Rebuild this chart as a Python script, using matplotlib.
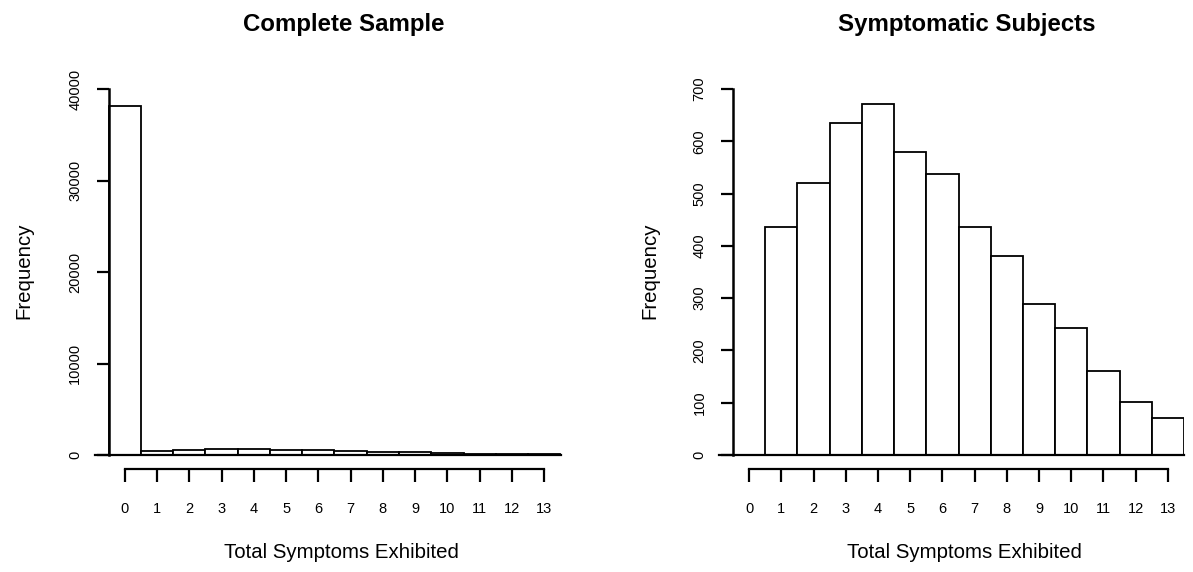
import matplotlib
matplotlib.use("Agg")
import matplotlib.pyplot as plt

# symptom counts 0..13
symptoms = list(range(14))
complete_freq = [38100, 436, 520, 635, 671, 579, 537, 436, 380, 289, 242, 160, 101, 70]
symptomatic_freq = [0, 436, 520, 635, 671, 579, 537, 436, 380, 289, 242, 160, 101, 70]

titles = ["Complete Sample", "Symptomatic Subjects"]
xlabel = "Total Symptoms Exhibited"
ylabel = "Frequency"
yticks_left = [0, 10000, 20000, 30000, 40000]
yticks_right = [0, 100, 200, 300, 400, 500, 600, 700]

plt.rcParams["font.family"] = ["Liberation Sans", "DejaVu Sans"]

W, H = 1193, 572
fig = plt.figure(figsize=(W / 100, H / 100), dpi=100)


def px_axes(x0, x1, y0, y1):
    # pixel box (top-left origin) -> figure fraction
    return fig.add_axes([x0 / W, 1 - y1 / H, (x1 - x0) / W, (y1 - y0) / H])


def px_text(x, y, s, **kw):
    fig.text(x / W, 1 - y / H, s, ha="center", va="center", **kw)


def hist_panel(ax, freq, yticks, xlim):
    ax.bar(symptoms, freq, width=1.0, color="white", edgecolor="black",
           linewidth=1.3, zorder=2)
    ax.axhline(0, color="black", linewidth=1.6, zorder=3, clip_on=False)
    ax.set_xlim(*xlim)
    ax.set_ylim(0, yticks[-1])
    for s in ("top", "right"):
        ax.spines[s].set_visible(False)
    ax.spines["left"].set_position(("data", -0.5))
    ax.spines["left"].set_bounds(yticks[0], yticks[-1])
    ax.spines["left"].set_linewidth(1.8)
    ax.spines["bottom"].set_position(("outward", 10))
    ax.spines["bottom"].set_bounds(symptoms[0], symptoms[-1])
    ax.spines["bottom"].set_linewidth(1.6)
    ax.set_xticks(symptoms)
    ax.set_xticklabels([str(s) for s in symptoms])
    ax.set_yticks(yticks)
    ax.set_yticklabels([str(t) for t in yticks], rotation=90, va="center")
    ax.tick_params(axis="x", direction="out", length=9, width=1.6,
                   pad=15, labelsize=10.5)
    ax.tick_params(axis="y", direction="out", length=9, width=1.6,
                   pad=10, labelsize=10.5)
    ax.patch.set_visible(False)


ax1 = px_axes(95, 561, 89, 455)
hist_panel(ax1, complete_freq, yticks_left, (-0.92, 13.52))
ax2 = px_axes(719, 1184, 89, 455)
hist_panel(ax2, symptomatic_freq, yticks_right, (-0.935, 13.5))

px_text(343.5, 24, titles[0], fontsize=17.3, fontweight="bold")
px_text(966.5, 24, titles[1], fontsize=17.3, fontweight="bold")
px_text(341.5, 552, xlabel, fontsize=14.7)
px_text(964.5, 552, xlabel, fontsize=14.7)
px_text(24, 271, ylabel, rotation=90, fontsize=14.7)
px_text(650, 271, ylabel, rotation=90, fontsize=14.7)

fig.savefig("out.png", dpi=100)
